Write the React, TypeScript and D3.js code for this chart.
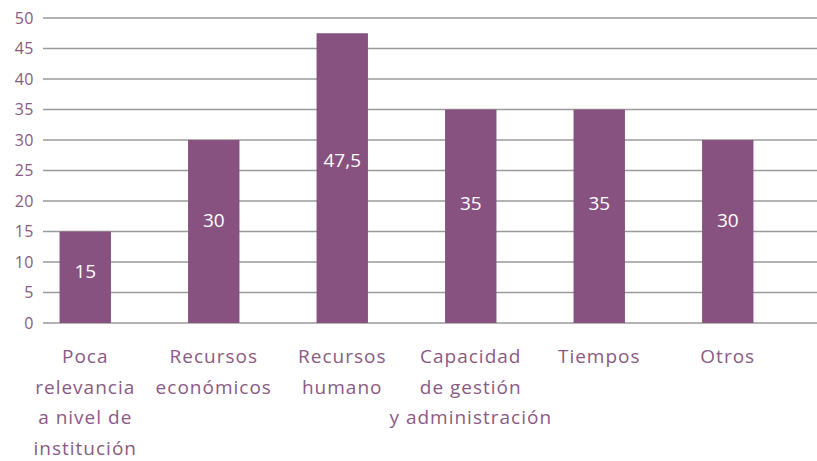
import React, { useEffect } from "react";
import * as d3 from "d3";

const categories = [
  "Poca relevancia a nivel de institución",
  "Recursos económicos",
  "Recursos humano",
  "Capacidad de gestión y administración",
  "Tiempos",
  "Otros",
];
const labelLines = [
  ["Poca", "relevancia", "a nivel de", "institución"],
  ["Recursos", "económicos"],
  ["Recursos", "humano"],
  ["Capacidad", "de gestión", "y administración"],
  ["Tiempos"],
  ["Otros"],
];
const values = [15, 30, 47.5, 35, 35, 30];
const valueLabels = ["15", "30", "47,5", "35", "35", "30"];
const yTicks = [0, 5, 10, 15, 20, 25, 30, 35, 40, 45, 50];

const width = 817;
const height = 461;
const barColor = "#87527f";
const textColor = "#8a5a84";
const gridColor = "#9a9a9a";
const font = "'Open Sans', sans-serif";

export default function App() {
  useEffect(() => {
    document.body.style.margin = "0";
  }, []);

  const x = d3
    .scaleBand()
    .domain(categories)
    .range([21, 792])
    .paddingInner(0.6)
    .paddingOuter(0.3);
  const y = d3.scaleLinear().domain([0, 50]).range([323, 18]);
  const gridLeft = 43;

  return (
    <svg width={width} height={height} style={{ display: "block", background: "#fff" }}>
      <g>
        {yTicks.map((t) => (
          <g key={t}>
            <line x1={gridLeft} x2={width} y1={y(t)} y2={y(t)} stroke={gridColor} strokeWidth={1.5} />
            <text
              x={34}
              y={y(t)}
              dy="0.35em"
              textAnchor="end"
              fill={textColor}
              fontFamily={font}
              fontSize={16}
              letterSpacing={0.5}
            >
              {t}
            </text>
          </g>
        ))}
      </g>
      <g>
        {categories.map((c, i) => {
          const top = y(values[i]);
          const h = y(0) - top;
          return (
            <g key={c}>
              <rect x={x(c)} y={top} width={x.bandwidth()} height={h} fill={barColor} />
              <text
                x={x(c)! + x.bandwidth() / 2}
                y={top + h * 0.44}
                dy="0.35em"
                textAnchor="middle"
                fill="#fff"
                fontFamily={font}
                fontSize={19}
              >
                {valueLabels[i]}
              </text>
            </g>
          );
        })}
      </g>
      <g>
        {categories.map((c, i) => (
          <text
            key={c}
            textAnchor="middle"
            fill={textColor}
            fontFamily={font}
            fontSize={19}
            letterSpacing={1}
          >
            {labelLines[i].map((line, j) => (
              <tspan key={j} x={x(c)! + x.bandwidth() / 2} y={363 + j * 30.5}>
                {line}
              </tspan>
            ))}
          </text>
        ))}
      </g>
    </svg>
  );
}
